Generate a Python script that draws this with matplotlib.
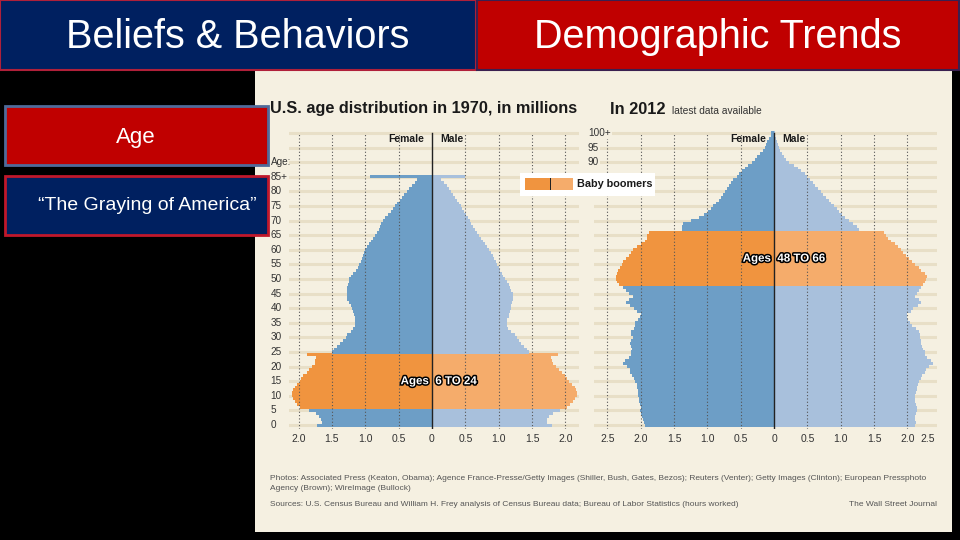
import numpy as np
import matplotlib
matplotlib.use("Agg")
import matplotlib.pyplot as plt
from matplotlib.patches import Rectangle
import matplotlib.patheffects as pe

# ---------------------------------------------------------------------
# Data (millions of people, single years of age)
# ---------------------------------------------------------------------
ages_1970 = np.arange(86)          # last entry = 85+
female_1970 = [1.73, 1.65, 1.66, 1.70, 1.74, 1.85, 1.98, 2.02, 2.05, 2.08,
               2.10, 2.10, 2.08, 2.05, 2.02, 1.98, 1.96, 1.93, 1.88, 1.85,
               1.80, 1.76, 1.75, 1.74, 1.88, 1.50, 1.47, 1.43, 1.38, 1.33,
               1.29, 1.27, 1.22, 1.18, 1.16, 1.15, 1.15, 1.15, 1.17, 1.18,
               1.20, 1.22, 1.25, 1.27, 1.27, 1.28, 1.27, 1.27, 1.26, 1.25,
               1.24, 1.22, 1.18, 1.14, 1.11, 1.09, 1.07, 1.05, 1.03, 1.02,
               1.00, 0.97, 0.94, 0.91, 0.89, 0.86, 0.83, 0.80, 0.78, 0.76,
               0.73, 0.70, 0.66, 0.62, 0.59, 0.56, 0.52, 0.48, 0.45, 0.42,
               0.38, 0.34, 0.30, 0.26, 0.22, 0.93]
male_1970 = [1.80, 1.72, 1.73, 1.76, 1.82, 1.92, 2.03, 2.07, 2.11, 2.15,
             2.17, 2.17, 2.16, 2.14, 2.10, 2.06, 2.03, 2.00, 1.95, 1.90,
             1.86, 1.82, 1.80, 1.78, 1.89, 1.45, 1.42, 1.38, 1.34, 1.30,
             1.27, 1.24, 1.19, 1.14, 1.12, 1.12, 1.13, 1.15, 1.16, 1.17,
             1.18, 1.19, 1.20, 1.21, 1.22, 1.21, 1.19, 1.17, 1.15, 1.12,
             1.09, 1.07, 1.05, 1.02, 1.00, 0.98, 0.96, 0.93, 0.91, 0.89,
             0.86, 0.83, 0.80, 0.77, 0.74, 0.71, 0.67, 0.64, 0.61, 0.59,
             0.57, 0.54, 0.51, 0.48, 0.45, 0.43, 0.41, 0.38, 0.35, 0.32,
             0.29, 0.26, 0.22, 0.18, 0.14, 0.50]
boom_1970 = (6, 24)

ages_2012 = np.arange(101)         # last entry = 100+
female_2012 = [1.93, 1.95, 1.97, 1.98, 2.00, 2.01, 2.00, 2.01, 2.02, 2.03,
               2.04, 2.04, 2.04, 2.05, 2.06, 2.08, 2.10, 2.13, 2.16, 2.16,
               2.20, 2.26, 2.24, 2.18, 2.14, 2.14, 2.13, 2.15, 2.16, 2.15,
               2.12, 2.14, 2.14, 2.10, 2.09, 2.08, 2.04, 2.01, 1.99, 2.05,
               2.10, 2.16, 2.22, 2.18, 2.11, 2.17, 2.22, 2.26, 2.33, 2.35,
               2.37, 2.37, 2.35, 2.34, 2.31, 2.28, 2.26, 2.22, 2.18, 2.14,
               2.11, 2.06, 2.00, 1.94, 1.90, 1.90, 1.88, 1.38, 1.38, 1.37,
               1.25, 1.12, 1.05, 0.99, 0.95, 0.91, 0.87, 0.83, 0.80, 0.77,
               0.74, 0.70, 0.67, 0.64, 0.61, 0.56, 0.52, 0.48, 0.44, 0.39,
               0.33, 0.29, 0.25, 0.21, 0.17, 0.14, 0.12, 0.10, 0.07, 0.05,
               0.04]
male_2012 = [2.12, 2.13, 2.12, 2.12, 2.13, 2.14, 2.14, 2.13, 2.12, 2.12,
             2.12, 2.13, 2.14, 2.15, 2.16, 2.18, 2.20, 2.22, 2.26, 2.28,
             2.33, 2.39, 2.36, 2.30, 2.27, 2.26, 2.24, 2.22, 2.21, 2.20,
             2.19, 2.19, 2.18, 2.13, 2.07, 2.04, 2.01, 1.99, 2.00, 2.06,
             2.09, 2.16, 2.21, 2.17, 2.12, 2.14, 2.18, 2.20, 2.24, 2.26,
             2.28, 2.29, 2.26, 2.21, 2.17, 2.12, 2.07, 2.02, 1.98, 1.94,
             1.91, 1.86, 1.81, 1.75, 1.71, 1.68, 1.65, 1.27, 1.24, 1.19,
             1.12, 1.06, 1.02, 0.98, 0.94, 0.90, 0.85, 0.82, 0.78, 0.74,
             0.70, 0.66, 0.62, 0.58, 0.54, 0.50, 0.46, 0.41, 0.36, 0.30,
             0.22, 0.18, 0.15, 0.12, 0.09, 0.07, 0.06, 0.04, 0.03, 0.02,
             0.01]
boom_2012 = (48, 66)

left_age_ticks = [0, 5, 10, 15, 20, 25, 30, 35, 40, 45, 50, 55, 60, 65, 70, 75, 80, 85]
left_age_labels = ["0", "5", "10", "15", "20", "25", "30", "35", "40", "45",
                   "50", "55", "60", "65", "70", "75", "80", "85+"]
right_age_ticks = [100, 95, 90]
right_age_labels = ["100+", "95", "90"]
x_ticks_1970 = [-2.0, -1.5, -1.0, -0.5, 0, 0.5, 1.0, 1.5, 2.0]
x_ticks_2012 = [-2.5, -2.0, -1.5, -1.0, -0.5, 0, 0.5, 1.0, 1.5, 2.0]

# ---------------------------------------------------------------------
# Colours and fonts
# ---------------------------------------------------------------------
NAVY = "#002060"
RED = "#C00000"
PANEL = "#f5f0e1"
STRIPE = "#e8dfc7"
F_BLUE = "#6d9ec6"
M_BLUE = "#a8c0dc"
F_ORANGE = "#f0943f"
M_ORANGE = "#f5ac6b"
INK = "#1a1a1a"
GREY = "#333333"
FONT = "Liberation Sans"


def fx(x):
    return x / 960.0


def fy(y):
    return 1 - y / 540.0


def box(x0, y0, x1, y1, fc, ec=None, lw=0, z=1):
    fig.add_artist(Rectangle((fx(x0), fy(y1)), fx(x1 - x0), (y1 - y0) / 540.0,
                             transform=fig.transFigure, facecolor=fc,
                             edgecolor=ec if ec else fc, linewidth=lw, zorder=z))


fig = plt.figure(figsize=(9.6, 5.4), dpi=100, facecolor="black")

# slide boxes
box(0, 0, 476, 70, NAVY, "#b0203a", 1.5, z=1)
box(477, 0, 959, 70, RED, "#3a2050", 1.5, z=1)
fig.text(fx(238), fy(37), "Beliefs & Behaviors", color="white", family=FONT,
         fontsize=28.5, ha="center", va="center")
fig.text(fx(718), fy(37), "Demographic Trends", color="white", family=FONT,
         fontsize=28.5, ha="center", va="center")

# chart panel
box(255, 71, 952, 532, PANEL, z=-1)

box(5, 106, 268, 165, RED, "#4f6b9a", 2, z=5)
box(5, 176, 268, 235, NAVY, "#c0182b", 2, z=5)
fig.text(fx(136), fy(137), "Age", color="white", family=FONT, fontsize=16,
         ha="center", va="center", zorder=6)
fig.text(fx(147), fy(206), "\u201cThe Graying of America\u201d", color="white",
         family=FONT, fontsize=14, ha="center", va="center", zorder=6)

# ---------------------------------------------------------------------
# Pyramids
# ---------------------------------------------------------------------
y_lo, y_hi = -1.5, 101.5
ax1 = fig.add_axes([fx(288.6), fy(429.4), (578.7 - 288.6) / 960, (429.4 - 128.6) / 540])
ax2 = fig.add_axes([fx(594), fy(429.4), (937.4 - 594) / 960, (429.4 - 128.6) / 540])
ax1.set_xlim(-2.15, 2.2)
ax2.set_xlim(-2.7, 2.45)

top_frac = (100 - y_lo) / (y_hi - y_lo)


def pyramid(ax, ages, female, male, boom, xticks):
    ax.set_facecolor("none")
    ax.set_ylim(y_lo, y_hi)
    for a in range(0, 101, 5):
        ax.axhline(a, color=STRIPE, lw=2.2, zorder=0.5)
    in_boom = (ages >= boom[0]) & (ages <= boom[1])
    fcol = np.where(in_boom, F_ORANGE, F_BLUE)
    mcol = np.where(in_boom, M_ORANGE, M_BLUE)
    ax.barh(ages, -np.array(female), height=1.04, color=fcol, linewidth=0, zorder=2)
    ax.barh(ages, np.array(male), height=1.04, color=mcol, linewidth=0, zorder=2)
    for x in xticks:
        if x != 0:
            ax.axvline(x, ymin=0, ymax=top_frac, color="#555555", lw=0.8,
                       ls=(0, (1, 2)), zorder=3)
    ax.axvline(0, ymin=0, ymax=top_frac, color="#222222", lw=1.0, zorder=4)
    ax.set_xticks(xticks)
    ax.set_xticklabels(["0" if x == 0 else f"{abs(x):.1f}" for x in xticks],
                       family=FONT, fontsize=7.5, color=GREY)
    ax.tick_params(axis="x", length=0, pad=3)
    ax.set_yticks([])
    for s in ax.spines.values():
        s.set_visible(False)
    ax.text(-0.12, 98, "Female", family=FONT, fontsize=7.5, fontweight="bold",
            ha="right", va="center", color=INK, zorder=6)
    ax.text(0.12, 98, "Male", family=FONT, fontsize=7.5, fontweight="bold",
            ha="left", va="center", color=INK, zorder=6)
    mid = (boom[0] + boom[1]) / 2
    stroke = [pe.withStroke(linewidth=2.2, foreground="black")]
    ax.text(-0.05, mid, "Ages", family=FONT, fontsize=8.3, fontweight="bold",
            color="white", ha="right", va="center", path_effects=stroke, zorder=7)
    ax.text(0.05, mid, f"{boom[0]} TO {boom[1]}", family=FONT, fontsize=8.3,
            fontweight="bold", color="white", ha="left", va="center",
            path_effects=stroke, zorder=7)


pyramid(ax1, ages_1970, female_1970, male_1970, boom_1970, x_ticks_1970)
pyramid(ax2, ages_2012, female_2012, male_2012, boom_2012, x_ticks_2012)

# age labels
for a, lab in zip(left_age_ticks, left_age_labels):
    ax1.text(-2.42, a, lab, family=FONT, fontsize=7.2, color=GREY,
             ha="left", va="center", clip_on=False)
ax1.text(-2.42, 90, "Age:", family=FONT, fontsize=7.2, color=GREY,
         ha="left", va="center", clip_on=False)
for a, lab in zip(right_age_ticks, right_age_labels):
    ax2.text(-2.79, a, lab, family=FONT, fontsize=7.2, color=GREY,
             ha="left", va="center", clip_on=False,
             bbox=dict(facecolor=PANEL, edgecolor="none", pad=0.6), zorder=6)
ax2.annotate("2.5", xy=(1, 0), xycoords="axes fraction", xytext=(-2, -3),
             textcoords="offset points", ha="right", va="top", family=FONT,
             fontsize=7.5, color=GREY)

# titles
fig.text(fx(270), fy(109), "U.S. age distribution in 1970, in millions",
         family=FONT, fontsize=11.7, fontweight="bold", color=INK,
         ha="left", va="center")
fig.text(fx(610), fy(109), "In 2012", family=FONT, fontsize=11.8,
         fontweight="bold", color=INK, ha="left", va="center")
fig.text(fx(672), fy(111), "latest data available", family=FONT,
         fontsize=7.3, color=GREY, ha="left", va="center")

# legend
box(520, 173, 655, 196, "white", z=5)
box(525, 178, 550, 190, F_ORANGE, z=6)
box(550, 178, 573, 190, M_ORANGE, z=6)
box(549.5, 178, 550.8, 190, "#222222", z=7)
fig.text(fx(577), fy(184), "Baby boomers", family=FONT, fontsize=7.8,
         fontweight="bold", color=INK, ha="left", va="center", zorder=8)

# footer
foot = dict(family=FONT, fontsize=6.0, color="#555555", va="center")
fig.text(fx(270), fy(478), "Photos: Associated Press (Keaton, Obama); Agence France-Presse/"
         "Getty Images (Shiller, Bush, Gates, Bezos); Reuters (Venter); Getty Images "
         "(Clinton); European Pressphoto", ha="left", **foot)
fig.text(fx(270), fy(489), "Agency (Brown); WireImage (Bullock)", ha="left", **foot)
fig.text(fx(270), fy(505), "Sources: U.S. Census Bureau and William H. Frey analysis of "
         "Census Bureau data; Bureau of Labor Statistics (hours worked)", ha="left", **foot)
fig.text(fx(937), fy(505), "The Wall Street Journal", ha="right", **foot)

fig.savefig("out.png", dpi=100, facecolor="black")
